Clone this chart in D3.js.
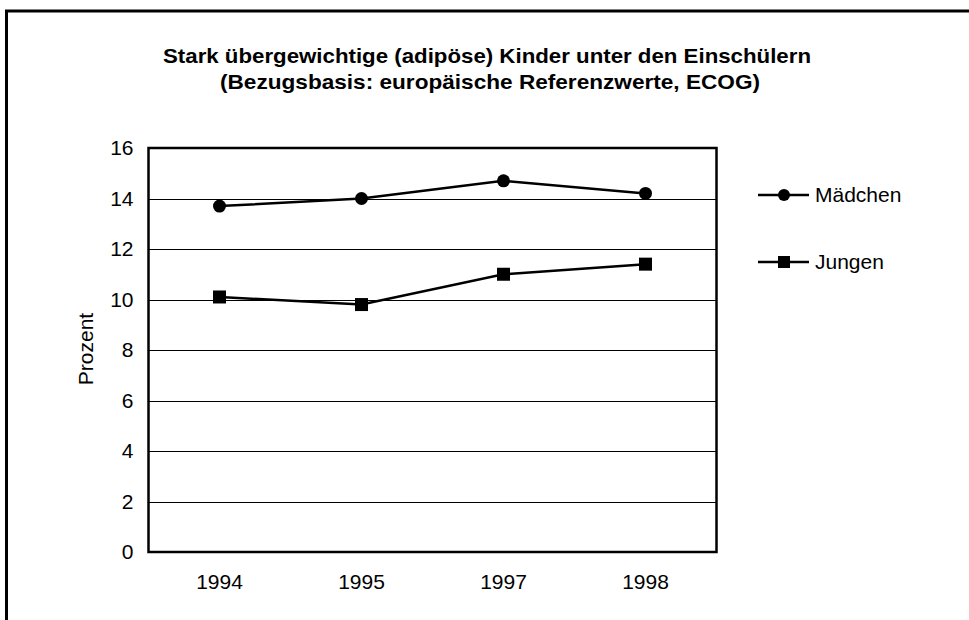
<!DOCTYPE html>
<html><head><meta charset="utf-8">
<script src="https://cdn.jsdelivr.net/npm/d3@7"></script>
<style>body{margin:0;background:#fff}svg{display:block}text{font-family:"Liberation Sans",Arial,sans-serif;fill:#000}</style>
</head><body>
<svg id="c" width="969" height="620"></svg>
<script>
const categories = ["1994","1995","1997","1998"];
const maedchen = [13.7, 14.0, 14.7, 14.2];
const jungen = [10.1, 9.8, 11.0, 11.4];
const yTicks = [0,2,4,6,8,10,12,14,16];
const seriesNames = ["Mädchen","Jungen"];
const titleLines = ["Stark übergewichtige (adipöse) Kinder unter den Einschülern","(Bezugsbasis: europäische Referenzwerte, ECOG)"];

const svg = d3.select("#c");
svg.append("rect").attr("x",6.5).attr("y",11).attr("width",1000).attr("height",700)
  .attr("fill","#fff").attr("stroke","#000").attr("stroke-width",3);

const L=148.5, R=716.5, T=148, B=552;
const x = d3.scaleBand().domain(categories).range([L,R]);
const y = d3.scaleLinear().domain([0,16]).range([B,T]);

svg.append("g").selectAll("line").data(yTicks.filter(d=>d>0&&d<16)).join("line")
  .attr("x1",L).attr("x2",R).attr("y1",d=>Math.round(y(d))+0.5).attr("y2",d=>Math.round(y(d))+0.5)
  .attr("stroke","#000").attr("stroke-width",1);

const yAxis = d3.axisLeft(y).tickValues(yTicks).tickSize(0).tickPadding(15);
const ga = svg.append("g").attr("transform",`translate(${L},0)`).call(yAxis);
ga.select(".domain").remove();
ga.selectAll("text").attr("font-size",21).style("font-family","Liberation Sans, Arial, sans-serif").attr("fill","#000");

const xAxis = d3.axisBottom(x).tickSize(0).tickPadding(22);
const gx = svg.append("g").attr("transform",`translate(0,${B})`).call(xAxis);
gx.select(".domain").remove();
gx.selectAll("text").attr("font-size",21).style("font-family","Liberation Sans, Arial, sans-serif").attr("fill","#000");

svg.append("rect").attr("x",L).attr("y",T).attr("width",R-L).attr("height",B-T)
  .attr("fill","none").attr("stroke","#000").attr("stroke-width",2.5);

const line = d3.line().x((d,i)=>x(categories[i])+x.bandwidth()/2).y(d=>y(d));
[maedchen,jungen].forEach((s,k)=>{
  svg.append("path").datum(s).attr("d",line).attr("fill","none").attr("stroke","#000").attr("stroke-width",2.5);
  const g = svg.append("g");
  s.forEach((v,i)=>{
    const cx = x(categories[i])+x.bandwidth()/2, cy = y(v);
    if(k===0) g.append("circle").attr("cx",cx).attr("cy",cy).attr("r",6.5).attr("fill","#000");
    else g.append("rect").attr("x",cx-6.5).attr("y",cy-6.5).attr("width",13).attr("height",13).attr("fill","#000");
  });
});

const legY = [195, 262];
seriesNames.forEach((n,k)=>{
  const ly = legY[k];
  svg.append("line").attr("x1",758).attr("x2",809).attr("y1",ly).attr("y2",ly).attr("stroke","#000").attr("stroke-width",2.5);
  if(k===0) svg.append("circle").attr("cx",784).attr("cy",ly).attr("r",6).attr("fill","#000");
  else svg.append("rect").attr("x",778).attr("y",ly-6).attr("width",12).attr("height",12).attr("fill","#000");
  svg.append("text").attr("x",815).attr("y",ly).attr("dy","0.35em").attr("font-size",21).text(n);
});

svg.append("text").attr("transform","translate(93,349) rotate(-90)").attr("text-anchor","middle")
  .attr("font-size",21).text("Prozent");

svg.append("text").attr("x",487).attr("y",63).attr("text-anchor","middle").attr("font-size",21).attr("font-weight","bold")
  .attr("textLength",648).attr("lengthAdjust","spacingAndGlyphs").text(titleLines[0]);
svg.append("text").attr("x",490).attr("y",89).attr("text-anchor","middle").attr("font-size",21).attr("font-weight","bold")
  .attr("textLength",540).attr("lengthAdjust","spacingAndGlyphs").text(titleLines[1]);
</script>
</body></html>
